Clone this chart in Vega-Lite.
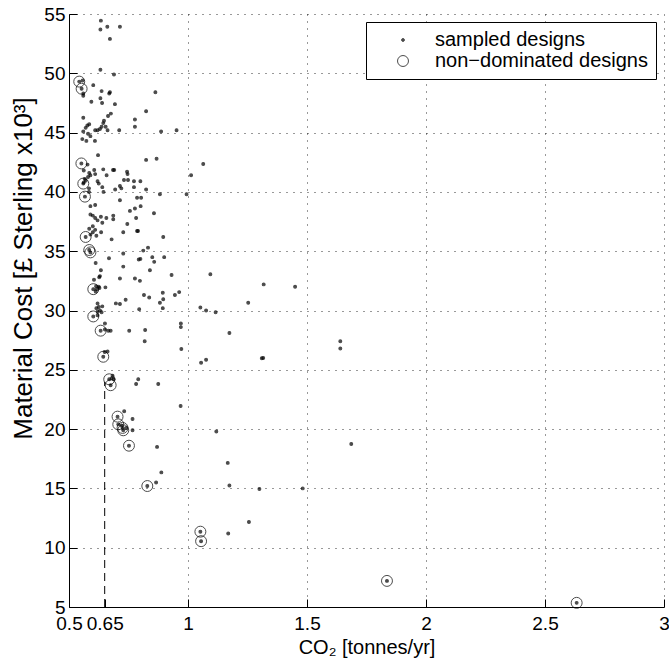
{
"$schema": "https://vega.github.io/schema/vega-lite/v6.json",
"width": 595, "height": 593,
"autosize": {"type": "none"},
"padding": {"left": 69, "top": 14, "right": 5, "bottom": 60},
"background": "white",
"config": {
  "view": {"stroke": null},
  "font": "Liberation Sans",
  "axis": {"labelFont": "Liberation Sans", "titleFont": "Liberation Sans", "labelFontSize": 19, "titleFontSize": 20, "titleFontWeight": "normal", "labelColor": "black", "titleColor": "black", "domainColor": "black", "tickColor": "black", "gridColor": "#000000", "gridDash": [1, 6], "gridWidth": 1},
  "legend": {"orient": "top-right", "offset": 8, "padding": 8, "strokeColor": "black", "fillColor": "white", "labelFont": "Liberation Sans", "labelFontSize": 20, "labelLimit": 500, "labelColor": "black", "symbolOffset": 19, "labelOffset": 22, "rowPadding": 1, "symbolStrokeWidth": 1, "symbolType": "circle", "cornerRadius": 0}
},
"datasets": {
  "designs": [
    {"co2":0.634,"cost":54.44,"nd":0},{"co2":0.632,"cost":53.7,"nd":0},{"co2":0.661,"cost":53.93,"nd":0},{"co2":0.714,"cost":53.93,"nd":0},{"co2":0.672,"cost":52.9,"nd":0},
    {"co2":0.632,"cost":50.3,"nd":0},{"co2":0.689,"cost":49.9,"nd":0},{"co2":0.557,"cost":49.4,"nd":0},{"co2":0.56,"cost":48.3,"nd":0},{"co2":0.56,"cost":48.1,"nd":0},
    {"co2":0.602,"cost":49.0,"nd":0},{"co2":0.637,"cost":48.5,"nd":0},{"co2":0.672,"cost":48.4,"nd":0},{"co2":0.669,"cost":48.3,"nd":0},{"co2":0.632,"cost":47.9,"nd":0},
    {"co2":0.639,"cost":47.5,"nd":0},{"co2":0.594,"cost":47.6,"nd":0},{"co2":0.693,"cost":47.4,"nd":0},{"co2":0.863,"cost":48.4,"nd":0},{"co2":0.824,"cost":46.8,"nd":0},
    {"co2":0.676,"cost":46.6,"nd":0},{"co2":0.664,"cost":46.4,"nd":0},{"co2":0.56,"cost":46.25,"nd":0},{"co2":0.647,"cost":46.0,"nd":0},{"co2":0.644,"cost":45.8,"nd":0},
    {"co2":0.637,"cost":45.5,"nd":0},{"co2":0.654,"cost":45.5,"nd":0},{"co2":0.777,"cost":46.1,"nd":0},{"co2":0.777,"cost":45.5,"nd":0},{"co2":0.585,"cost":45.7,"nd":0},
    {"co2":0.577,"cost":45.6,"nd":0},{"co2":0.57,"cost":45.4,"nd":0},{"co2":0.56,"cost":45.1,"nd":0},{"co2":0.58,"cost":44.9,"nd":0},{"co2":0.59,"cost":44.7,"nd":0},
    {"co2":0.61,"cost":45.2,"nd":0},{"co2":0.62,"cost":45.2,"nd":0},{"co2":0.63,"cost":45.3,"nd":0},{"co2":0.662,"cost":45.2,"nd":0},{"co2":0.711,"cost":45.2,"nd":0},
    {"co2":0.887,"cost":45.1,"nd":0},{"co2":0.952,"cost":45.2,"nd":0},{"co2":0.556,"cost":44.45,"nd":0},{"co2":0.573,"cost":44.3,"nd":0},{"co2":0.609,"cost":44.3,"nd":0},
    {"co2":0.622,"cost":43.1,"nd":0},{"co2":0.578,"cost":42.3,"nd":0},{"co2":0.824,"cost":42.7,"nd":0},{"co2":0.868,"cost":42.8,"nd":0},{"co2":1.064,"cost":42.35,"nd":0},
    {"co2":1.013,"cost":41.4,"nd":0},{"co2":0.562,"cost":41.8,"nd":0},{"co2":0.585,"cost":41.6,"nd":0},{"co2":0.59,"cost":41.4,"nd":0},{"co2":0.58,"cost":41.25,"nd":0},
    {"co2":0.566,"cost":41.1,"nd":0},{"co2":0.57,"cost":40.95,"nd":0},{"co2":0.562,"cost":40.8,"nd":0},{"co2":0.606,"cost":41.85,"nd":0},{"co2":0.61,"cost":41.5,"nd":0},
    {"co2":0.62,"cost":40.9,"nd":0},{"co2":0.625,"cost":40.7,"nd":0},{"co2":0.644,"cost":41.9,"nd":0},{"co2":0.658,"cost":41.4,"nd":0},{"co2":0.685,"cost":41.85,"nd":0},
    {"co2":0.69,"cost":41.85,"nd":0},{"co2":0.744,"cost":41.7,"nd":0},{"co2":0.746,"cost":41.5,"nd":0},{"co2":0.731,"cost":41.0,"nd":0},{"co2":0.748,"cost":41.0,"nd":0},
    {"co2":0.773,"cost":40.9,"nd":0},{"co2":0.80,"cost":40.9,"nd":0},{"co2":0.714,"cost":40.5,"nd":0},{"co2":0.72,"cost":40.3,"nd":0},{"co2":0.694,"cost":40.2,"nd":0},
    {"co2":0.64,"cost":40.4,"nd":0},{"co2":0.645,"cost":40.0,"nd":0},{"co2":0.773,"cost":40.4,"nd":0},{"co2":0.824,"cost":40.2,"nd":0},{"co2":0.994,"cost":39.8,"nd":0},
    {"co2":0.882,"cost":39.8,"nd":0},{"co2":0.584,"cost":40.3,"nd":0},{"co2":0.584,"cost":40.0,"nd":0},{"co2":0.59,"cost":38.8,"nd":0},{"co2":0.61,"cost":38.9,"nd":0},
    {"co2":0.59,"cost":38.1,"nd":0},{"co2":0.6,"cost":38.0,"nd":0},{"co2":0.61,"cost":37.8,"nd":0},{"co2":0.62,"cost":37.6,"nd":0},{"co2":0.634,"cost":37.9,"nd":0},
    {"co2":0.64,"cost":37.4,"nd":0},{"co2":0.657,"cost":37.8,"nd":0},{"co2":0.686,"cost":38.0,"nd":0},{"co2":0.686,"cost":37.7,"nd":0},{"co2":0.714,"cost":39.3,"nd":0},
    {"co2":0.756,"cost":38.4,"nd":0},{"co2":0.745,"cost":37.3,"nd":0},{"co2":0.728,"cost":36.6,"nd":0},{"co2":0.782,"cost":37.8,"nd":0},{"co2":0.777,"cost":38.6,"nd":0},
    {"co2":0.801,"cost":38.8,"nd":0},{"co2":0.803,"cost":39.5,"nd":0},{"co2":0.786,"cost":39.5,"nd":0},{"co2":0.857,"cost":38.2,"nd":0},{"co2":0.786,"cost":36.7,"nd":0},
    {"co2":0.79,"cost":36.7,"nd":0},{"co2":0.896,"cost":36.2,"nd":0},{"co2":0.59,"cost":36.4,"nd":0},{"co2":0.6,"cost":36.6,"nd":0},{"co2":0.61,"cost":36.8,"nd":0},
    {"co2":0.6,"cost":37.1,"nd":0},{"co2":0.585,"cost":36.9,"nd":0},{"co2":0.615,"cost":36.3,"nd":0},{"co2":0.679,"cost":36.0,"nd":0},{"co2":0.635,"cost":36.6,"nd":0},
    {"co2":0.612,"cost":34.0,"nd":0},{"co2":0.668,"cost":34.4,"nd":0},{"co2":0.728,"cost":34.8,"nd":0},{"co2":0.728,"cost":33.7,"nd":0},{"co2":0.793,"cost":34.3,"nd":0},
    {"co2":0.80,"cost":34.35,"nd":0},{"co2":0.812,"cost":35.05,"nd":0},{"co2":0.832,"cost":35.3,"nd":0},{"co2":0.85,"cost":34.5,"nd":0},{"co2":0.858,"cost":34.1,"nd":0},
    {"co2":0.9,"cost":34.5,"nd":0},{"co2":0.84,"cost":33.4,"nd":0},{"co2":0.931,"cost":33.0,"nd":0},{"co2":1.094,"cost":33.05,"nd":0},{"co2":0.634,"cost":33.4,"nd":0},
    {"co2":0.63,"cost":32.9,"nd":0},{"co2":0.627,"cost":32.8,"nd":0},{"co2":0.714,"cost":32.7,"nd":0},{"co2":0.777,"cost":32.7,"nd":0},{"co2":0.798,"cost":32.5,"nd":0},
    {"co2":0.605,"cost":32.6,"nd":0},{"co2":0.614,"cost":32.05,"nd":0},{"co2":0.625,"cost":32.0,"nd":0},{"co2":0.617,"cost":31.8,"nd":0},{"co2":0.628,"cost":31.9,"nd":0},
    {"co2":0.612,"cost":31.6,"nd":0},{"co2":0.653,"cost":31.95,"nd":0},{"co2":0.815,"cost":31.3,"nd":0},{"co2":0.837,"cost":31.1,"nd":0},{"co2":0.894,"cost":31.5,"nd":0},
    {"co2":0.896,"cost":30.95,"nd":0},{"co2":0.945,"cost":31.3,"nd":0},{"co2":0.963,"cost":31.55,"nd":0},{"co2":0.882,"cost":30.65,"nd":0},{"co2":0.894,"cost":30.2,"nd":0},
    {"co2":0.697,"cost":30.6,"nd":0},{"co2":0.714,"cost":30.55,"nd":0},{"co2":0.738,"cost":30.9,"nd":0},{"co2":0.795,"cost":30.1,"nd":0},{"co2":0.62,"cost":30.6,"nd":0},
    {"co2":0.625,"cost":30.3,"nd":0},{"co2":0.615,"cost":30.2,"nd":0},{"co2":0.64,"cost":30.35,"nd":0},{"co2":0.63,"cost":30.0,"nd":0},{"co2":0.62,"cost":29.9,"nd":0},
    {"co2":0.637,"cost":29.85,"nd":0},{"co2":0.62,"cost":29.6,"nd":0},{"co2":0.651,"cost":28.9,"nd":0},{"co2":0.651,"cost":28.4,"nd":0},{"co2":0.665,"cost":28.3,"nd":0},
    {"co2":0.675,"cost":28.3,"nd":0},{"co2":0.753,"cost":28.3,"nd":0},{"co2":0.82,"cost":28.35,"nd":0},{"co2":0.818,"cost":27.4,"nd":0},{"co2":0.97,"cost":28.9,"nd":0},
    {"co2":0.97,"cost":28.6,"nd":0},{"co2":0.972,"cost":26.75,"nd":0},{"co2":1.174,"cost":28.1,"nd":0},{"co2":1.055,"cost":25.6,"nd":0},{"co2":1.076,"cost":25.85,"nd":0},
    {"co2":1.116,"cost":29.85,"nd":0},{"co2":1.076,"cost":30.0,"nd":0},{"co2":1.052,"cost":30.25,"nd":0},{"co2":0.65,"cost":26.5,"nd":0},{"co2":0.662,"cost":26.55,"nd":0},
    {"co2":0.68,"cost":24.3,"nd":0},{"co2":0.688,"cost":24.2,"nd":0},{"co2":0.683,"cost":24.5,"nd":0},{"co2":0.791,"cost":24.2,"nd":0},{"co2":0.782,"cost":23.8,"nd":0},
    {"co2":0.875,"cost":23.8,"nd":0},{"co2":0.969,"cost":21.95,"nd":0},{"co2":0.732,"cost":21.5,"nd":0},{"co2":0.767,"cost":20.85,"nd":0},{"co2":0.72,"cost":20.3,"nd":0},
    {"co2":0.74,"cost":20.1,"nd":0},{"co2":0.767,"cost":19.9,"nd":0},{"co2":1.119,"cost":19.8,"nd":0},{"co2":0.87,"cost":18.5,"nd":0},{"co2":0.888,"cost":16.35,"nd":0},
    {"co2":1.167,"cost":17.15,"nd":0},{"co2":1.174,"cost":15.25,"nd":0},{"co2":0.866,"cost":15.5,"nd":0},{"co2":1.169,"cost":11.2,"nd":0},{"co2":1.318,"cost":32.2,"nd":0},
    {"co2":1.45,"cost":32.0,"nd":0},{"co2":1.253,"cost":30.65,"nd":0},{"co2":1.31,"cost":25.97,"nd":0},{"co2":1.316,"cost":26.0,"nd":0},{"co2":1.64,"cost":27.4,"nd":0},
    {"co2":1.64,"cost":26.8,"nd":0},{"co2":1.686,"cost":18.75,"nd":0},{"co2":1.30,"cost":14.95,"nd":0},{"co2":1.482,"cost":15.0,"nd":0},{"co2":1.256,"cost":12.17,"nd":0},
    {"co2":0.543,"cost":49.3,"nd":1},{"co2":0.553,"cost":48.7,"nd":1},{"co2":0.552,"cost":42.4,"nd":1},{"co2":0.56,"cost":40.7,"nd":1},{"co2":0.567,"cost":39.6,"nd":1},
    {"co2":0.57,"cost":36.2,"nd":1},{"co2":0.585,"cost":35.1,"nd":1},{"co2":0.59,"cost":34.9,"nd":1},{"co2":0.602,"cost":31.8,"nd":1},{"co2":0.602,"cost":29.5,"nd":1},
    {"co2":0.633,"cost":28.3,"nd":1},{"co2":0.644,"cost":26.1,"nd":1},{"co2":0.669,"cost":24.2,"nd":1},{"co2":0.675,"cost":23.7,"nd":1},{"co2":0.704,"cost":21.05,"nd":1},
    {"co2":0.707,"cost":20.4,"nd":1},{"co2":0.725,"cost":20.1,"nd":1},{"co2":0.728,"cost":19.9,"nd":1},{"co2":0.752,"cost":18.6,"nd":1},{"co2":0.829,"cost":15.2,"nd":1},
    {"co2":1.052,"cost":11.35,"nd":1},{"co2":1.055,"cost":10.55,"nd":1},{"co2":1.836,"cost":7.2,"nd":1},{"co2":2.633,"cost":5.35,"nd":1}
  ]
},
"layer": [
  {
    "data": {"values": [{"co2": 0.65, "cost": 5, "cost2": 24}]},
    "mark": {"type": "rule", "color": "black", "strokeWidth": 1, "strokeDash": [8, 5]},
    "encoding": {
      "x": {"field": "co2", "type": "quantitative"},
      "y": {"field": "cost", "type": "quantitative"},
      "y2": {"field": "cost2"}
    }
  },
  {
    "data": {"name": "designs"},
    "mark": {"type": "point", "filled": true, "strokeWidth": 1.1},
    "encoding": {
      "x": {"field": "co2", "type": "quantitative",
        "scale": {"domain": [0.5, 3], "nice": false, "zero": false},
        "axis": {"values": [0.5, 0.65, 1, 1.5, 2, 2.5, 3], "format": "~g", "title": "CO₂ [tonnes/yr]", "grid": true,
          "gridOpacity": {"condition": {"test": "datum.value < 0.9", "value": 0}, "value": 0.8},
          "tickSize": -8, "labelPadding": 15, "labelOverlap": false, "labelFlush": false, "labelBound": false, "titlePadding": 4}},
      "y": {"field": "cost", "type": "quantitative",
        "scale": {"domain": [5, 55], "nice": false, "zero": false},
        "axis": {"values": [5, 10, 15, 20, 25, 30, 35, 40, 45, 50, 55], "title": "Material Cost [£ Sterling x10³]", "grid": true,
          "gridOpacity": {"condition": {"test": "datum.value < 6", "value": 0}, "value": 0.8},
          "tickSize": -8, "labelPadding": 12, "labelOverlap": false, "labelFlush": false,
          "titleFontSize": 26, "titleX": -38, "titleY": 254, "titleBaseline": "alphabetic", "titleAlign": "center"}},
      "fill": {"datum": "sampled designs", "type": "nominal",
        "scale": {"domain": ["sampled designs", "non−dominated designs"], "range": ["black", "transparent"]},
        "legend": {"title": null}},
      "stroke": {"datum": "sampled designs", "type": "nominal",
        "scale": {"domain": ["sampled designs", "non−dominated designs"], "range": ["black", "black"]},
        "legend": {"title": null}},
      "size": {"datum": "sampled designs", "type": "nominal",
        "scale": {"domain": ["sampled designs", "non−dominated designs"], "range": [8, 120]},
        "legend": {"title": null}}
    }
  },
  {
    "data": {"name": "designs"},
    "transform": [{"filter": "datum.nd == 1"}],
    "mark": {"type": "point", "filled": true, "strokeWidth": 1},
    "encoding": {
      "x": {"field": "co2", "type": "quantitative"},
      "y": {"field": "cost", "type": "quantitative"},
      "fill": {"datum": "non−dominated designs", "type": "nominal"},
      "stroke": {"datum": "non−dominated designs", "type": "nominal"},
      "size": {"datum": "non−dominated designs", "type": "nominal"}
    }
  }
]
}
